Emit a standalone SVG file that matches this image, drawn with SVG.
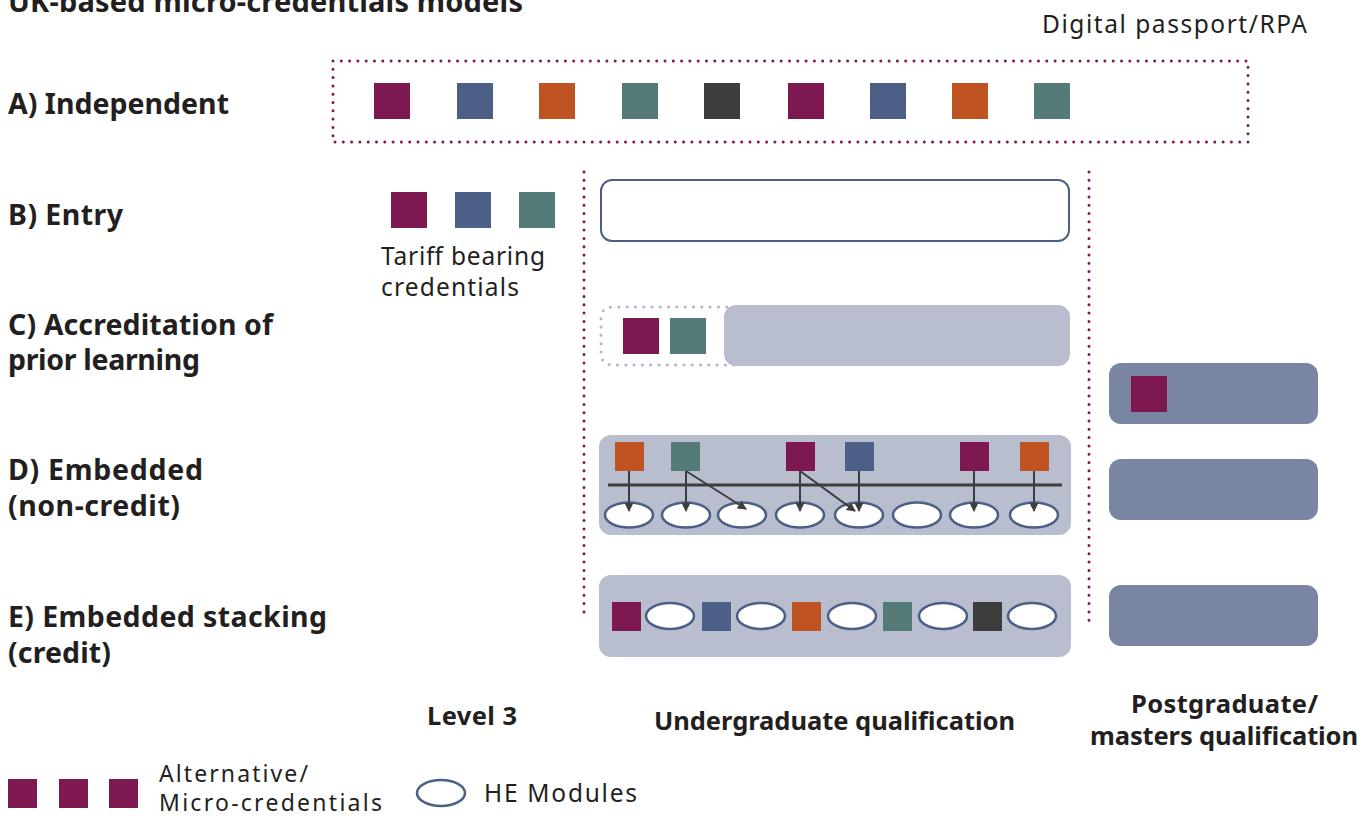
<svg xmlns="http://www.w3.org/2000/svg" width="1363" height="816" viewBox="0 0 1363 816">
<defs>
<style>
.ttl{font-family:"Noto Sans","Open Sans",sans-serif;font-weight:bold;font-size:29px;fill:#231f20}
.lbl{font-family:"Noto Sans","Open Sans",sans-serif;font-weight:bold;font-size:28.5px;fill:#231f20}
.sub{font-family:"Noto Sans","Open Sans",sans-serif;font-weight:bold;font-size:25.5px;fill:#231f20}
.txt{font-family:"Noto Sans","Open Sans",sans-serif;font-size:24.5px;fill:#231f20}
.leg{font-family:"Noto Sans","Open Sans",sans-serif;font-size:23px;fill:#231f20}
.pu{fill:#7E1850}.bl{fill:#4B5F87}.or{fill:#C05322}.te{fill:#547B78}.dk{fill:#3D3D3D}
.lt{fill:#B8BECD}.pg{fill:#7886A3}
.mod{fill:#fff;stroke:#4B5F87;stroke-width:2.5}
.dotp{fill:none;stroke:#7E1850;stroke-width:3;stroke-linecap:round;stroke-dasharray:0 8.3}
.dotg{fill:none;stroke:#AEB5C5;stroke-width:3;stroke-linecap:round;stroke-dasharray:0 8.3}
.ar{stroke:#3D3D3D;stroke-width:2;fill:none;marker-end:url(#ah)}
</style>
<marker id="ah" viewBox="0 0 10 10" refX="9" refY="5" markerWidth="4.5" markerHeight="4.5" orient="auto" markerUnits="strokeWidth">
<path d="M0,0 L10,5 L0,10 z" fill="#3D3D3D"/>
</marker>
</defs>

<g id="title"><text class="ttl" x="8" y="12" textLength="515" lengthAdjust="spacing">UK-based micro-credentials models</text></g>
<g id="label-rpa"><text class="txt" x="1042" y="33" textLength="265" lengthAdjust="spacing">Digital passport/RPA</text></g>

<g id="row-labels">
<text class="lbl" x="8" y="114" textLength="221" lengthAdjust="spacing">A) Independent</text>
<text class="lbl" x="8" y="225" textLength="115" lengthAdjust="spacing">B) Entry</text>
<text class="lbl" x="8" y="335" textLength="265" lengthAdjust="spacing">C) Accreditation of</text>
<text class="lbl" x="8" y="370" textLength="192" lengthAdjust="spacing">prior learning</text>
<text class="lbl" x="8" y="480" textLength="195" lengthAdjust="spacing">D) Embedded</text>
<text class="lbl" x="8" y="516" textLength="172" lengthAdjust="spacing">(non-credit)</text>
<text class="lbl" x="8" y="627" textLength="319" lengthAdjust="spacing">E) Embedded stacking</text>
<text class="lbl" x="8" y="663" textLength="103" lengthAdjust="spacing">(credit)</text>
</g>

<g id="dividers">
<line class="dotp" x1="584" y1="172" x2="584" y2="620"/>
<line class="dotp" x1="1089" y1="172" x2="1089" y2="623"/>
</g>

<g id="A-independent">
<rect class="dotp" x="333" y="61" width="915" height="81"/>
<rect class="pu" x="374" y="83" width="36" height="36"/>
<rect class="bl" x="457" y="83" width="36" height="36"/>
<rect class="or" x="539" y="83" width="36" height="36"/>
<rect class="te" x="622" y="83" width="36" height="36"/>
<rect class="dk" x="704" y="83" width="36" height="36"/>
<rect class="pu" x="788" y="83" width="36" height="36"/>
<rect class="bl" x="870" y="83" width="36" height="36"/>
<rect class="or" x="952" y="83" width="36" height="36"/>
<rect class="te" x="1034" y="83" width="36" height="36"/>
</g>

<g id="B-entry">
<rect class="pu" x="391" y="192" width="36" height="36"/>
<rect class="bl" x="455" y="192" width="36" height="36"/>
<rect class="te" x="519" y="192" width="36" height="36"/>
<text class="txt" x="381" y="265" textLength="164" lengthAdjust="spacing">Tariff bearing</text>
<text class="txt" x="381" y="296" textLength="138" lengthAdjust="spacing">credentials</text>
<rect x="601" y="180" width="468" height="61" rx="11" fill="#fff" stroke="#4B5F87" stroke-width="2"/>
</g>

<g id="C-apl">
<path class="dotg" d="M735,307 L613,307 Q601,307 601,319 L601,353 Q601,365 613,365 L735,365"/>
<rect class="lt" x="724" y="305" width="346" height="61" rx="12"/>
<rect class="pu" x="623" y="318" width="36" height="36"/>
<rect class="te" x="670" y="318" width="36" height="36"/>
</g>

<g id="PG-boxes">
<rect class="pg" x="1109" y="363" width="209" height="61" rx="12"/>
<rect class="pu" x="1131" y="376" width="36" height="36"/>
<rect class="pg" x="1109" y="459" width="209" height="61" rx="12"/>
<rect class="pg" x="1109" y="585" width="209" height="61" rx="12"/>
</g>

<g id="D-embedded">
<rect class="lt" x="599" y="435" width="472" height="100" rx="12"/>
<rect class="or" x="615" y="442" width="29" height="29"/>
<rect class="te" x="671" y="442" width="29" height="29"/>
<rect class="pu" x="786" y="442" width="29" height="29"/>
<rect class="bl" x="845" y="442" width="29" height="29"/>
<rect class="pu" x="960" y="442" width="29" height="29"/>
<rect class="or" x="1020" y="442" width="29" height="29"/>
<line x1="608" y1="485" x2="1062" y2="485" stroke="#3D3D3D" stroke-width="3"/>
<ellipse class="mod" cx="629" cy="515" rx="24" ry="12.5"/>
<ellipse class="mod" cx="686" cy="515" rx="24" ry="12.5"/>
<ellipse class="mod" cx="742" cy="515" rx="24" ry="12.5"/>
<ellipse class="mod" cx="800" cy="515" rx="24" ry="12.5"/>
<ellipse class="mod" cx="859" cy="515" rx="24" ry="12.5"/>
<ellipse class="mod" cx="917" cy="515" rx="24" ry="12.5"/>
<ellipse class="mod" cx="974" cy="515" rx="24" ry="12.5"/>
<ellipse class="mod" cx="1034" cy="515" rx="24" ry="12.5"/>
</g>

<g id="connectors">
<line class="ar" x1="629" y1="471" x2="629" y2="511"/>
<line class="ar" x1="686" y1="471" x2="686" y2="511"/>
<line class="ar" x1="686" y1="471" x2="746" y2="509"/>
<line class="ar" x1="800" y1="471" x2="800" y2="511"/>
<line class="ar" x1="800" y1="471" x2="855" y2="511"/>
<line class="ar" x1="859" y1="471" x2="859" y2="511"/>
<line class="ar" x1="974" y1="471" x2="974" y2="511"/>
<line class="ar" x1="1034" y1="471" x2="1034" y2="511"/>
</g>

<g id="E-stacking">
<rect class="lt" x="599" y="575" width="472" height="82" rx="12"/>
<rect class="pu" x="612" y="602" width="29" height="29"/>
<ellipse class="mod" cx="670" cy="616" rx="24" ry="13"/>
<rect class="bl" x="702" y="602" width="29" height="29"/>
<ellipse class="mod" cx="761" cy="616" rx="24" ry="13"/>
<rect class="or" x="792" y="602" width="29" height="29"/>
<ellipse class="mod" cx="852" cy="616" rx="24" ry="13"/>
<rect class="te" x="883" y="602" width="29" height="29"/>
<ellipse class="mod" cx="943" cy="616" rx="24" ry="13"/>
<rect class="dk" x="973" y="602" width="29" height="29"/>
<ellipse class="mod" cx="1032" cy="616" rx="24" ry="13"/>
</g>

<g id="column-labels">
<text class="sub" x="472" y="725" text-anchor="middle" textLength="90" lengthAdjust="spacing">Level 3</text>
<text class="sub" x="834.5" y="730" text-anchor="middle" textLength="361" lengthAdjust="spacing">Undergraduate qualification</text>
<text class="sub" x="1224.5" y="713" text-anchor="middle" textLength="187" lengthAdjust="spacing">Postgraduate/</text>
<text class="sub" x="1224" y="745" text-anchor="middle" textLength="268" lengthAdjust="spacing">masters qualification</text>
</g>

<g id="legend">
<rect class="pu" x="8" y="779" width="29" height="29"/>
<rect class="pu" x="59" y="779" width="29" height="29"/>
<rect class="pu" x="109" y="779" width="29" height="29"/>
<text class="leg" x="159" y="782" textLength="149" lengthAdjust="spacing">Alternative/</text>
<text class="leg" x="159" y="811" textLength="223" lengthAdjust="spacing">Micro-credentials</text>
<ellipse class="mod" cx="441" cy="793" rx="24" ry="13"/>
<text class="txt" x="484" y="802" textLength="153" lengthAdjust="spacing">HE Modules</text>
</g>
</svg>
